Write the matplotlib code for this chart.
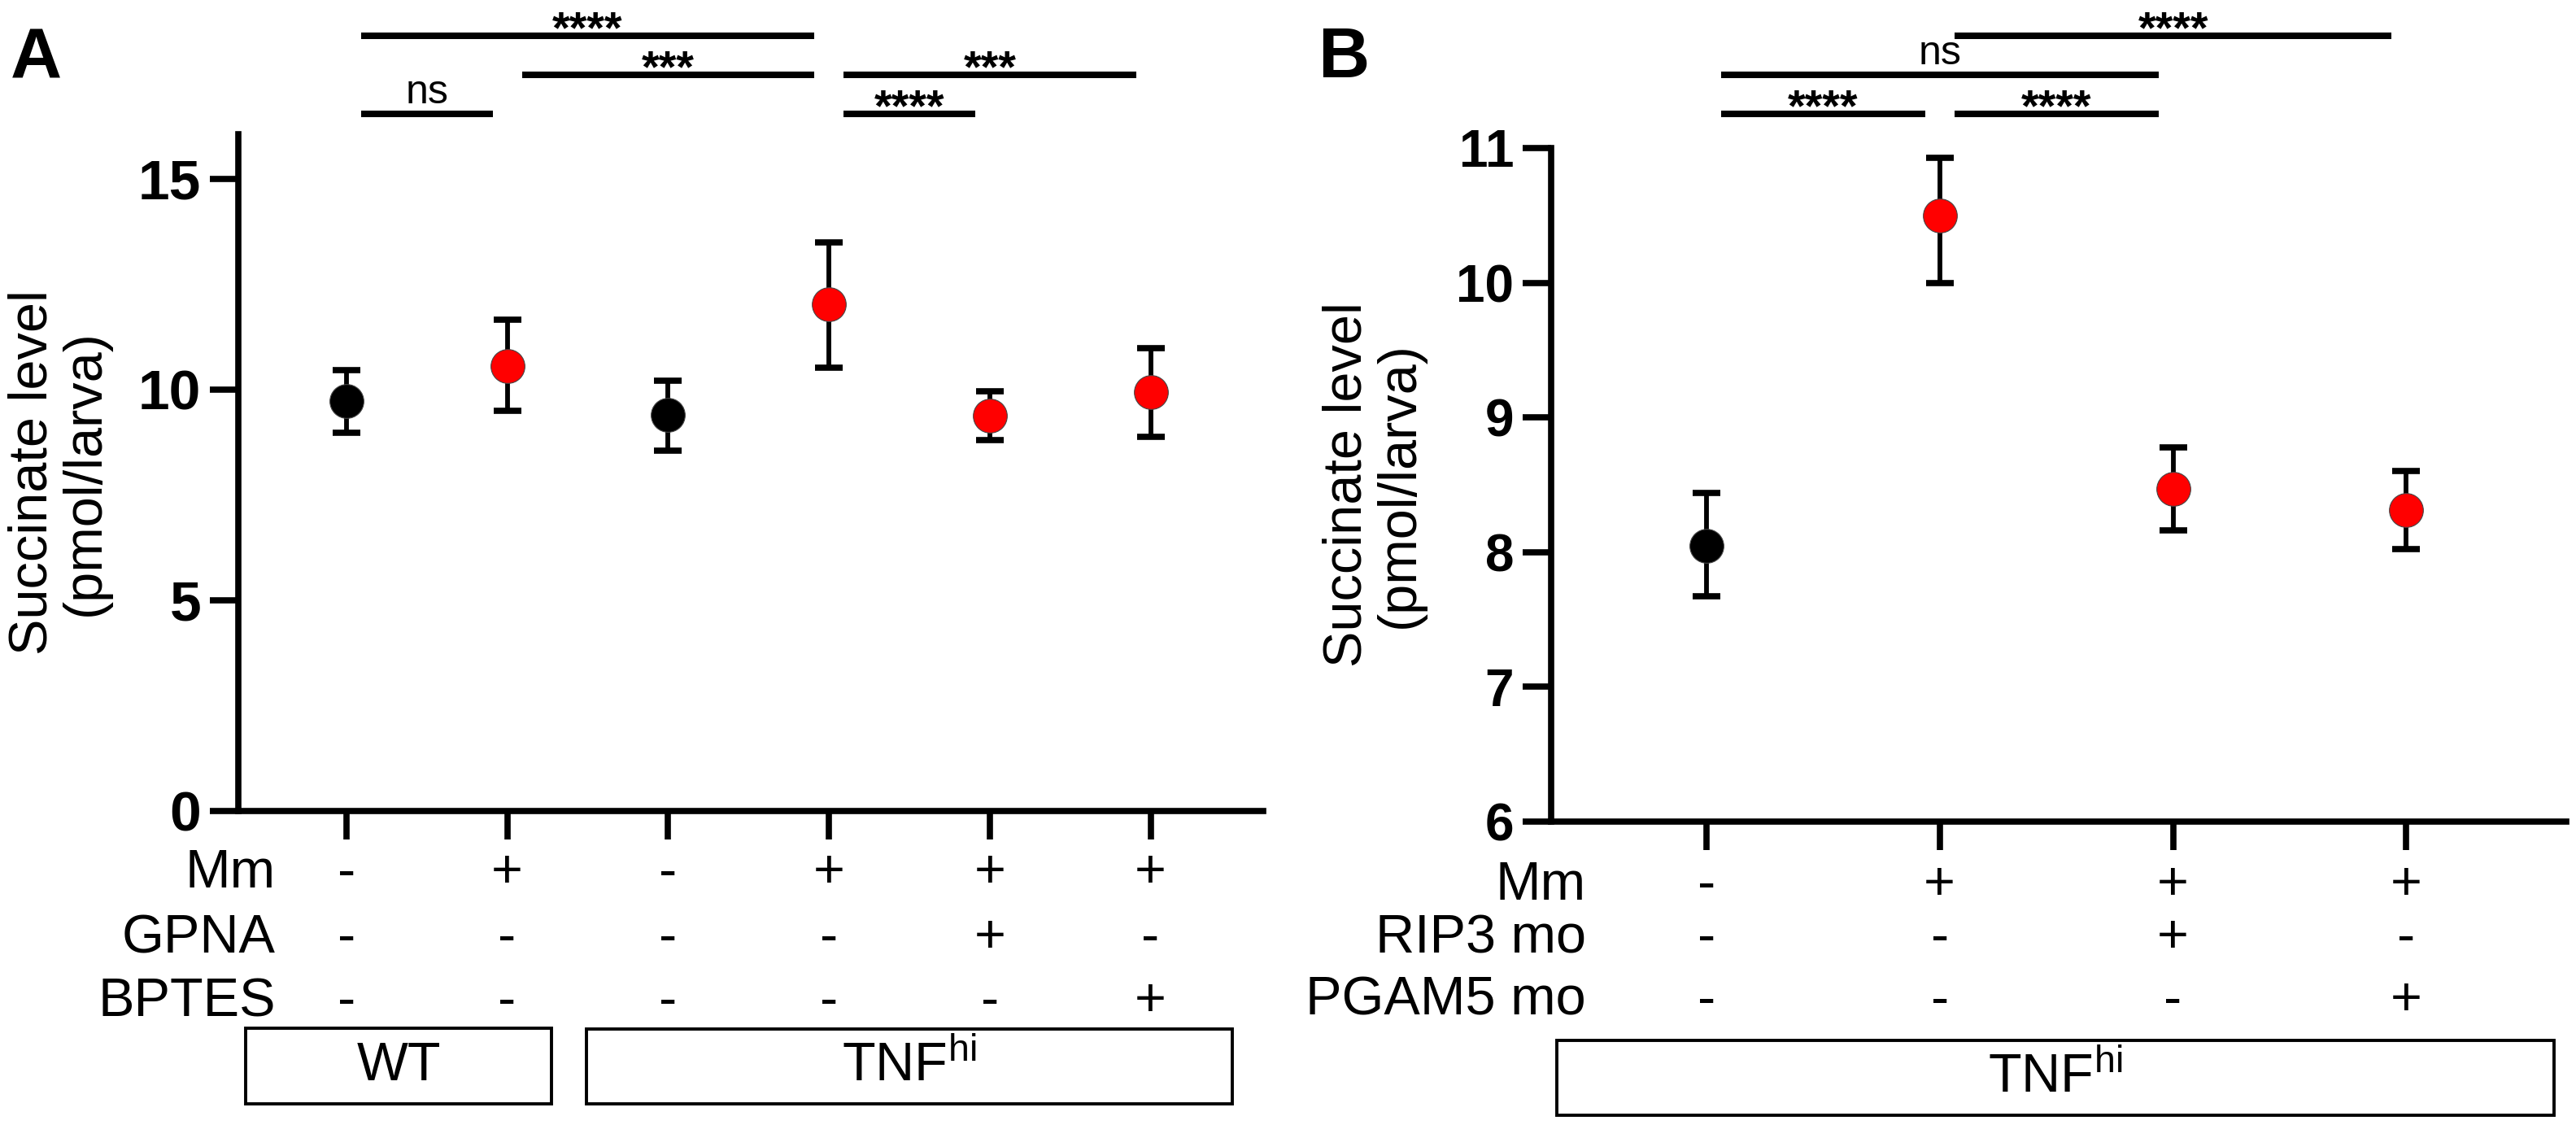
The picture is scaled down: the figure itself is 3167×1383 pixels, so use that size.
import numpy as np
import matplotlib
matplotlib.use('Agg')
import matplotlib.pyplot as plt
from matplotlib.transforms import blended_transform_factory
from matplotlib.patches import Rectangle
from matplotlib.lines import Line2D

plt.rcParams['font.family'] = ['Liberation Sans', 'DejaVu Sans']
plt.rcParams['mathtext.fontset'] = 'custom'
plt.rcParams['mathtext.rm'] = 'Liberation Sans'
plt.rcParams['mathtext.default'] = 'regular'

# panel A data
a_mean = [9.73, 10.56, 9.40, 12.03, 9.38, 9.94]
a_low = [8.98, 9.50, 8.55, 10.52, 8.80, 8.88]
a_high = [10.46, 11.66, 10.21, 13.50, 9.96, 10.98]
a_color = ['black', 'red', 'black', 'red', 'red', 'red']
a_rows = ['Mm', 'GPNA', 'BPTES']
a_signs = [['-', '+', '-', '+', '+', '+'],
           ['-', '-', '-', '-', '+', '-'],
           ['-', '-', '-', '-', '-', '+']]
a_comp = [(0, 1, 'ns', 0), (0, 3, '****', 2), (1, 3, '***', 1),
          (3, 4, '****', 0), (3, 5, '***', 1)]

# panel B data
b_mean = [8.05, 10.50, 8.47, 8.31]
b_low = [7.67, 10.00, 8.16, 8.02]
b_high = [8.44, 10.93, 8.78, 8.60]
b_color = ['black', 'red', 'red', 'red']
b_rows = ['Mm', 'RIP3 mo', 'PGAM5 mo']
b_signs = [['-', '+', '+', '+'],
           ['-', '-', '+', '-'],
           ['-', '-', '-', '+']]
b_comp = [(0, 1, '****', 0), (1, 2, '****', 0), (0, 2, 'ns', 1), (1, 3, '****', 2)]

W, H = 3167, 1383
fig = plt.figure(figsize=(W / 100, H / 100), dpi=100)


def fy(y):
    return 1 - y / H


def fx(x):
    return x / W


def panel(rect, mean, low, high, colors, ylim, yticks, tsize, xlim):
    ax = fig.add_axes(rect)
    x = np.arange(len(mean))
    mean = np.array(mean)
    err = [mean - np.array(low), np.array(high) - mean]
    ax.errorbar(x, mean, yerr=err, fmt='none', ecolor='black', elinewidth=4.2,
                capsize=12, capthick=5.5, zorder=2)
    for xi, m, c in zip(x, mean, colors):
        ax.plot(xi, m, 'o', ms=30, mfc=c, mec='#444444', mew=0.8, zorder=3)
    ax.set_xlim(*xlim)
    ax.set_ylim(*ylim)
    ax.set_yticks(yticks)
    ax.set_yticklabels([str(t) for t in yticks], fontsize=tsize, fontweight='bold',
                       family=['Liberation Sans Narrow', 'Liberation Sans'])
    ax.set_xticks(x)
    ax.set_xticklabels([])
    for s in ['top', 'right']:
        ax.spines[s].set_visible(False)
    for s in ['left', 'bottom']:
        ax.spines[s].set_linewidth(5.5)
    ax.tick_params(direction='out', length=25, width=5.5, pad=8)
    ax.set_ylabel('Succinate level\n(pmol/larva)', fontsize=48, linespacing=1.05,
                  va='center')
    ax.yaxis.set_label_coords(-0.175, 0.5)
    return ax


def annotate(ax, comps, inset_px):
    tr = blended_transform_factory(ax.transData, fig.transFigure)
    x0, x1 = ax.get_xlim()
    pos = ax.get_position()
    inset = inset_px / (pos.width * W / (x1 - x0))
    bar_y = [140, 92, 44]
    for i, j, lab, lev in comps:
        y = bar_y[lev]
        ax.add_line(Line2D([i + inset, j - inset], [fy(y), fy(y)], transform=tr,
                           color='black', lw=5.8, clip_on=False, solid_capstyle='butt'))
        if lab == 'ns':
            ax.text((i + j) / 2, fy(y - 13), lab, transform=tr, ha='center',
                    va='baseline', fontsize=36)
        else:
            ax.text((i + j) / 2, fy(y + 8), lab, transform=tr, ha='center',
                    va='baseline', fontsize=40, fontweight='bold')


def rows(ax, names, signs, label_x, row_y):
    tr = blended_transform_factory(ax.transData, fig.transFigure)
    for name, sg, y in zip(names, signs, row_y):
        fig.text(fx(label_x), fy(y), name, ha='right', va='center', fontsize=48)
        for k, s in enumerate(sg):
            ax.text(k, fy(y), s, transform=tr, ha='center', va='center', fontsize=48)


def box(x0, x1, y0, y1, label):
    fig.add_artist(Rectangle((fx(x0), fy(y1)), fx(x1) - fx(x0), fy(y0) - fy(y1),
                             transform=fig.transFigure, fill=False, lw=2.8,
                             edgecolor='black'))
    fig.text(fx((x0 + x1) / 2), fy((y0 + y1) / 2), label, ha='center', va='center',
             fontsize=48)


# Panel A
axA = panel([293 / W, fy(997), (1553 - 293) / W, (997 - 165) / H],
            a_mean, a_low, a_high, a_color, (0, 16.06), [0, 5, 10, 15], 50,
            (-0.672, 5.70))
annotate(axA, a_comp, 18)
rows(axA, a_rows, a_signs, 339, [1074, 1154, 1232])
box(302, 678, 1264, 1357, 'WT')
box(721, 1515, 1265, 1357, r'TNF$^{hi}$')
fig.text(fx(13), fy(95), 'A', fontsize=63, fontweight='bold', va='baseline',
         family=['Liberation Sans Narrow', 'Liberation Sans'])

# Panel B
axB = panel([1907 / W, fy(1010), (3155 - 1907) / W, (1010 - 182) / H],
            b_mean, b_low, b_high, b_color, (6, 11), [6, 7, 8, 9, 10, 11], 46,
            (-0.665, 3.685))
annotate(axB, b_comp, 18)
rows(axB, b_rows, b_signs, 1950, [1089, 1154, 1231])
box(1914, 3140, 1279, 1371, r'TNF$^{hi}$')
fig.text(fx(1620), fy(95), 'B', fontsize=63, fontweight='bold', va='baseline',
         family=['Liberation Sans Narrow', 'Liberation Sans'])

fig.savefig('out.png', dpi=100)
